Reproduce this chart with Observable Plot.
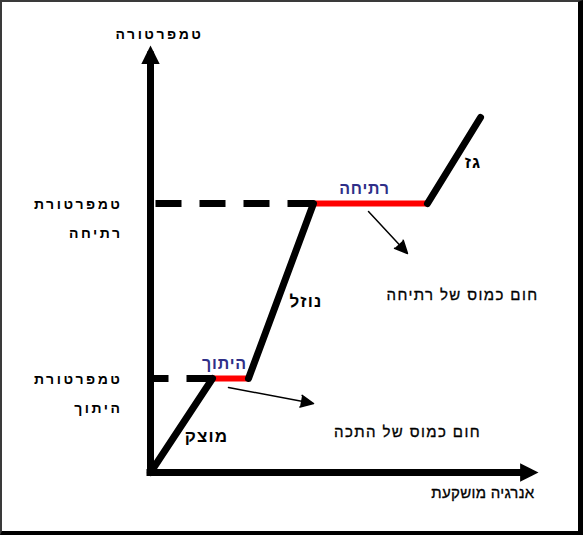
<!DOCTYPE html>
<html><head><meta charset="utf-8">
<script src="https://cdn.jsdelivr.net/npm/d3@7"></script>
<script src="https://cdn.jsdelivr.net/npm/@observablehq/plot@0.6"></script>
<style>
body{margin:0;background:#fff}
#wrap{position:relative;width:583px;height:535px;overflow:hidden;background:#fff}
#frame{position:absolute;left:0;top:0;width:583px;height:535px;box-sizing:border-box;border-top:2px solid #3a3a3a;border-left:2px solid #3a3a3a;border-right:5px solid #000;border-bottom:4px solid #000;pointer-events:none}
</style>
</head><body>
<div id="wrap"><div id="chart"></div><div id="frame"></div></div>
<script>
// heating curve: energy supplied vs temperature (schematic units)
const energy = [0, 62, 98, 163, 277, 330];
const temperature = [0, 94, 94, 269, 269, 355];
const phases = ["מוצק", "היתוך", "נוזל", "רתיחה", "גז"];
const phaseKinds = ["state", "change", "state", "change", "state"];
const tempLabels = ["טמפרטורת\nהיתוך", "טמפרטורת\nרתיחה"];
const latentLabels = ["חום כמוס של התכה", "חום כמוס של רתיחה"];
// annotation anchors in the same energy / temperature units
const latentArrowFrom = [[78, 85], [218, 261]];
const latentArrowTo = [[163, 69], [257, 219]];
const latentTextAt = [[257, 40], [312, 177]];
const xTitle = "אנרגיה מושקעת";
const yTitle = "טמפרטורה";
const axisEnd = {x: 388, y: 427};

const segments = phases.map((p, i) => ({
  x1: energy[i], y1: temperature[i], x2: energy[i + 1], y2: temperature[i + 1],
  label: p, kind: phaseKinds[i]
}));
const states = segments.filter(d => d.kind === "state");
const changes = segments.filter(d => d.kind === "change");
const changeLevels = changes.map((d, i) => ({...d, name: tempLabels[i]}));
const notes = latentLabels.map((t, i) => ({
  text: t, x1: latentArrowFrom[i][0], y1: latentArrowFrom[i][1],
  x2: latentArrowTo[i][0], y2: latentArrowTo[i][1],
  tx: latentTextAt[i][0], ty: latentTextAt[i][1]
}));

const headLen = r => Math.sqrt(r / Math.PI) * 2.3;
const triUp = {draw(ctx, size) { const h = headLen(size); ctx.moveTo(0, 0); ctx.lineTo(h / 2, h); ctx.lineTo(-h / 2, h); ctx.closePath(); }};
const triRight = {draw(ctx, size) { const h = headLen(size); ctx.moveTo(0, 0); ctx.lineTo(-h, h / 2); ctx.lineTo(-h, -h / 2); ctx.closePath(); }};

const FONT = "Liberation Sans, Arial, sans-serif";
const mid = (a, b) => (a + b) / 2;
const stateText = {x: d => mid(d.x1, d.x2), y: d => mid(d.y1, d.y2), text: "label", fontFamily: FONT, fontWeight: "bold", fontSize: 17, fill: "black"};

const plot = Plot.plot({
  width: 583, height: 535, margin: 0,
  x: {domain: [-150, 433], axis: null},
  y: {domain: [-63, 472], axis: null},
  marks: [
    // dashed reference levels
    Plot.link(changes, {x1: "x1", x2: 0, y1: "y1", y2: "y1", stroke: "black", strokeWidth: 7, strokeDasharray: "26,18"}),
    // axes
    Plot.ruleX([0], {y1: 0, y2: axisEnd.y - 10, stroke: "black", strokeWidth: 7, strokeLinecap: "square"}),
    Plot.ruleY([0], {x1: 0, x2: axisEnd.x - 10, stroke: "black", strokeWidth: 7, strokeLinecap: "square"}),
    Plot.dot([axisEnd], {x: 0, y: "y", symbol: triUp, r: 8, fill: "black", stroke: "none"}),
    Plot.dot([axisEnd], {x: "x", y: 0, symbol: triRight, r: 8, fill: "black", stroke: "none"}),
    // curve
    Plot.link(changes, {x1: "x1", y1: "y1", x2: "x2", y2: "y2", stroke: "#ff0000", strokeWidth: 6}),
    Plot.link(states, {x1: "x1", y1: "y1", x2: "x2", y2: "y2", stroke: "black", strokeWidth: 7, strokeLinecap: "round"}),
    // latent heat arrows
    Plot.arrow(notes, {x1: "x1", y1: "y1", x2: "x2", y2: "y2", stroke: "black", fill: "black", strokeWidth: 1.5, headLength: 14, headAngle: 50}),
    Plot.text(notes, {x: "tx", y: "ty", text: "text", fontFamily: FONT, fontSize: 15, fill: "black", stroke: "black", strokeWidth: 0.3}),
    // phase labels
    Plot.text(states.slice(0, 2), {...stateText, dx: 25, dy: 11}),
    Plot.text(states.slice(2), {...stateText, dx: 19, dy: 2}),
    Plot.text(changes, {x: d => mid(d.x1, d.x2), y: "y1", text: "label", dx: -6, dy: -15, fontFamily: FONT, fontWeight: "bold", fontSize: 16, fill: "#2f2f88"}),
    // temperature level names
    Plot.text(changeLevels, {x: 0, y: "y1", text: "name", dx: -28, dy: -15, textAnchor: "end", lineAnchor: "top", lineHeight: 2.05, fontFamily: FONT, fontWeight: "bold", fontSize: 14, fill: "black"}),
    // axis titles
    Plot.text([yTitle], {x: 0, y: axisEnd.y, text: d => d, dx: 9, dy: -11, fontFamily: FONT, fontWeight: "bold", fontSize: 14, fill: "black"}),
    Plot.text([xTitle], {x: axisEnd.x, y: 0, text: d => d, dx: -4, dy: 21, textAnchor: "end", fontFamily: FONT, fontSize: 15, fill: "black", stroke: "black", strokeWidth: 0.3})
  ]
});

// letter spacing per label family (the reference uses a widely spaced bitmap font)
const spacingOf = t => {
  if (t === yTitle || tempLabels.some(s => s.replace("\n", "") === t)) return "2.5px";
  if (latentLabels.includes(t)) return "1.4px";
  if (t === xTitle) return "0.3px";
  if (states.some(d => d.label === t)) return "1.2px";
  if (changes.some(d => d.label === t)) return "0.8px";
  return null;
};
d3.select(plot).selectAll("text").each(function () {
  const s = spacingOf(this.textContent);
  if (s) this.style.letterSpacing = s;
});
document.getElementById("chart").appendChild(plot);
</script>
</body></html>
